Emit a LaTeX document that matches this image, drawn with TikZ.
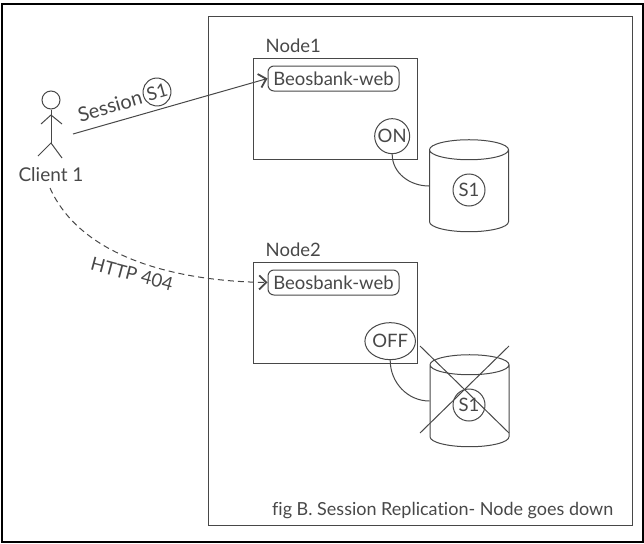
\documentclass[tikz,border=0pt]{standalone}
\usepackage{xcolor}
\usepackage{fontspec}
\setmainfont[Ligatures=NoCommon]{Lato}
\usetikzlibrary{shapes.geometric, arrows.meta, positioning}
\definecolor{ink}{HTML}{484848}
\tikzstyle{box} = [rectangle, draw=ink, line width=1pt, minimum width=164pt, minimum height=101pt]
\tikzstyle{pill} = [rectangle, draw=ink, line width=1pt, rounded corners=6pt, minimum width=131pt, minimum height=25pt, inner sep=0pt]
\tikzstyle{lamp} = [ellipse, draw=ink, line width=1pt, inner sep=0pt]
\tikzstyle{token} = [circle, draw=ink, line width=1pt, minimum size=32pt, inner sep=0pt]
\tikzstyle{store} = [cylinder, draw=ink, line width=1pt, shape border rotate=90, aspect=3, minimum width=79pt, minimum height=92pt]
\tikzstyle{caption} = [inner sep=0pt]
\tikzstyle{line} = [draw=ink, line width=1pt]
\tikzstyle{call} = [line, -{Straight Barb[length=7pt,width=14pt,line width=1.8pt]}]

\begin{document}
\begin{tikzpicture}[x=1pt, y=-1pt, every node/.append style={text=ink, font=\fontsize{18.5}{20}\selectfont}]
  \useasboundingbox (0,0) rectangle (644,543);
  \node (page) [rectangle, draw=black, line width=2.5pt, minimum width=641pt, minimum height=538pt, inner sep=0pt] at (322.5,273) {};
  \node (zone) [rectangle, draw=ink, line width=1pt, minimum width=424pt, minimum height=508pt] at (420,271) {};
  \node (node1) [box] at (335,108.5) {};
  \node (node2) [box, below=102pt of node1] {};
  \node (name1) [caption, above right=5pt and 13pt of node1.north west] {Node1};
  \node (name2) [caption, above right=5pt and 13pt of node2.north west] {Node2};
  \node (web1) [pill, below right=8pt and 15pt of node1.north west] {Beosbank-web};
  \node (web2) [pill, below right=8pt and 15pt of node2.north west] {Beosbank-web};
  \node (on) [lamp, circle, minimum size=35pt, above left=10.6pt and 12.6pt of node1.south east] {ON};
  \node (off) [lamp, minimum width=45pt, minimum height=37pt, above left=8.9pt and 9.1pt of node2.south east] {OFF};
  \node (db1) [store] at (469,193) {};
  \node (db2) [store] at (469.5,408) {};
  \node (s1) [token] at (469,190) {S1};
  \node (s2) [token] at (469,405) {S1};
  % the cross over the second store
  \coordinate (xa) at (420,346);
  \coordinate (xb) at (509,433);
  \coordinate (xc) at (509,346);
  \coordinate (xd) at (420,433);
  \draw [line] (xa) -- (xb);
  \draw [line] (xc) -- (xd);
  % client
  \node (head) [circle, draw=ink, line width=1pt, minimum size=18pt, inner sep=0pt] at (51,100) {};
  \coordinate (hip) at (51,143);
  \coordinate (neck) at (51,115);
  \draw [line] (head) -- (hip);
  \draw [line] (41,124) -- (neck) -- (62,124);
  \draw [line] (38,156) -- (hip) -- (62,158);
  \node (client) [caption, below=24pt of hip, font=\fontsize{19}{20}\selectfont] {Client 1};
  \coordinate (start1) at (73,134);
  \coordinate (start2) at (50,188);
  \draw [call] (start1) -- (web1.west);
  \draw [call, dash pattern=on 6pt off 4pt] (start2) .. controls (80,255) and (170,281) .. (web2.west);
  \node (session) [caption, rotate=16, font=\fontsize{20}{20}\selectfont] at (110,106) {Session};
  \node (s0) [token, minimum size=28pt, rotate=16] at (157,92) {S1};
  \node (http) [caption, rotate=-15] at (132,274) {HTTP 404};
  \draw [line] (on.south) to[out=270, in=180] ([yshift=7pt]db1.west);
  \draw [line] (off.south) to[out=270, in=180] ([yshift=7pt]db2.west);
  \node (fig) [caption, left=19pt of zone.south east, anchor=south east, yshift=7pt, font=\fontsize{18}{20}\selectfont] {fig B. Session Replication- Node goes down};
\end{tikzpicture}
\end{document}
